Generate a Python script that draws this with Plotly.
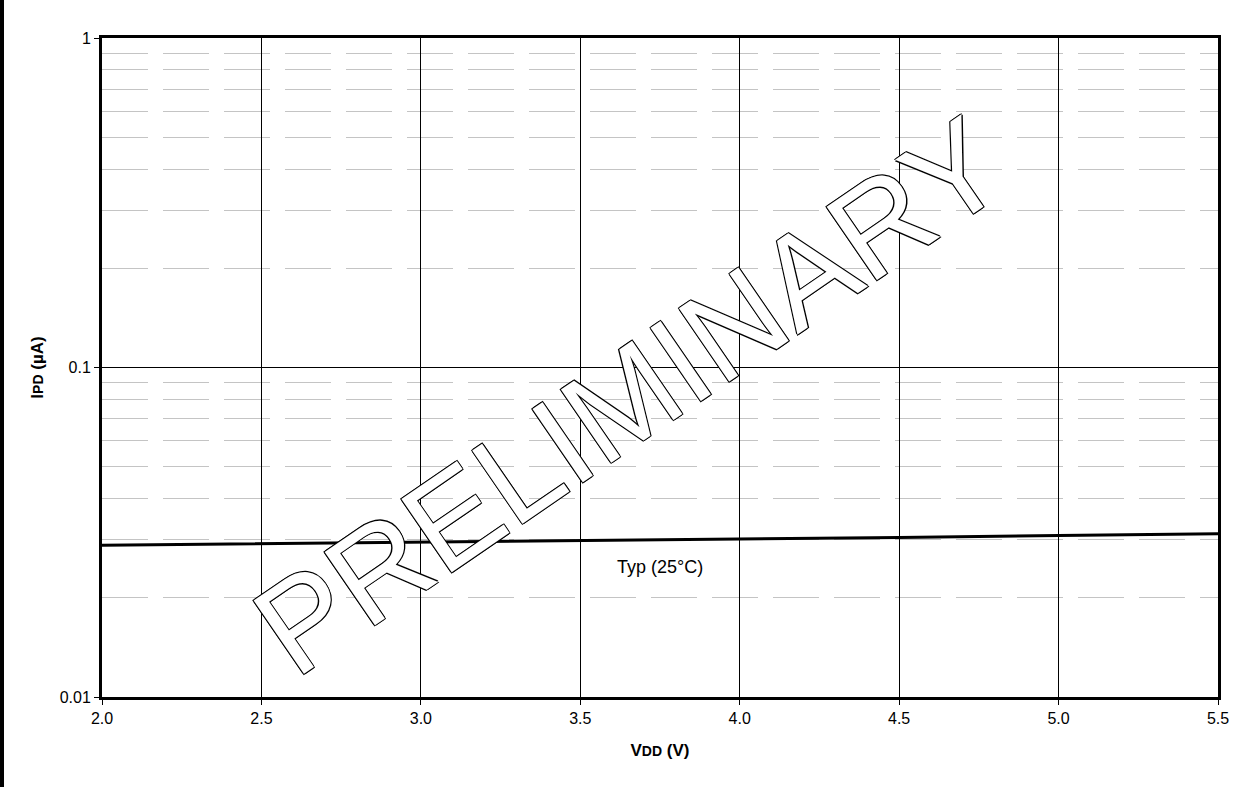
"""IPD vs VDD chart, preliminary datasheet style."""

import math

import plotly.graph_objects as go

VDD = [2.0, 2.5, 3.0, 3.5, 4.0, 4.5, 5.0, 5.5]
IPD_TYP = [0.0289, 0.0292, 0.0295, 0.0298, 0.0302, 0.0305, 0.0309, 0.0313]

X_TICKS = [2.0, 2.5, 3.0, 3.5, 4.0, 4.5, 5.0, 5.5]
Y_TICKS = [0.01, 0.1, 1]
Y_TICK_TEXT = ["0.01", "0.1", "1"]
Y_MINOR = [m * d for d in (0.01, 0.1) for m in range(2, 10)]

LABEL_X, LABEL_Y = 3.75, 0.0248

FONT = "Liberation Sans, Arial, sans-serif"

fig = go.Figure()
fig.add_trace(
    go.Scatter(
        x=VDD,
        y=IPD_TYP,
        mode="lines",
        line=dict(color="#000000", width=3),
        showlegend=False,
        hoverinfo="skip",
    )
)

# annotations on a log axis take log10 values
fig.add_annotation(
    x=LABEL_X, y=math.log10(LABEL_Y), xref="x", yref="y",
    text="Typ (25°C)", showarrow=False,
    font=dict(family=FONT, size=18, color="#000000"),
)

# outlined watermark
fig.add_annotation(
    x=0.472, y=0.457, xref="paper", yref="paper",
    text="PRELIMINARY", showarrow=False, textangle=-34.5,
    font=dict(
        family=FONT, size=129, color="#ffffff",
        shadow="-1px -1px 0 #000, 1px -1px 0 #000, -1px 1px 0 #000, 1px 1px 0 #000",
    ),
)

# page border on the left
fig.add_shape(
    type="line", xref="paper", yref="paper",
    x0=-0.0896, x1=-0.0896, y0=-0.2, y1=1.1,
    line=dict(color="#000000", width=4),
)

fig.update_xaxes(
    range=[2.0, 5.5],
    tickvals=X_TICKS,
    ticktext=[f"{v:.1f}" for v in X_TICKS],
    showgrid=True, gridcolor="#000000", gridwidth=1,
    showline=True, linecolor="#000000", linewidth=3, mirror=True,
    ticks="outside", ticklen=5, tickcolor="#000000", tickwidth=1,
    tickfont=dict(family=FONT, size=16, color="#000000"),
    title=dict(
        text="<b>V<span style='font-size:14px'>DD</span> (V)</b>",
        font=dict(family=FONT, size=17, color="#000000"),
        standoff=18,
    ),
    zeroline=False,
)
fig.update_yaxes(
    type="log",
    range=[-2, 0],
    tickvals=Y_TICKS,
    ticktext=Y_TICK_TEXT,
    showgrid=True, gridcolor="#000000", gridwidth=1,
    showline=True, linecolor="#000000", linewidth=3, mirror=True,
    ticks="outside", ticklen=5, tickcolor="#000000", tickwidth=1,
    tickfont=dict(family=FONT, size=16, color="#000000"),
    minor=dict(
        tickvals=Y_MINOR, showgrid=True, gridcolor="#c4c4c4",
        gridwidth=1, griddash="46px,15px", ticks="",
    ),
    title=dict(
        text="<b>I<span style='font-size:14px'>PD</span> (µA)</b>",
        font=dict(family=FONT, size=17, color="#000000"),
        standoff=12,
    ),
    zeroline=False,
)

fig.update_layout(
    width=1247, height=787,
    margin=dict(l=102, r=29, t=38, b=90, autoexpand=False),
    paper_bgcolor="#ffffff", plot_bgcolor="#ffffff",
    font=dict(family=FONT),
)

fig.write_html(
    "out.html",
    config={"displayModeBar": False},
    post_script="document.body.style.margin = '0';",
)
